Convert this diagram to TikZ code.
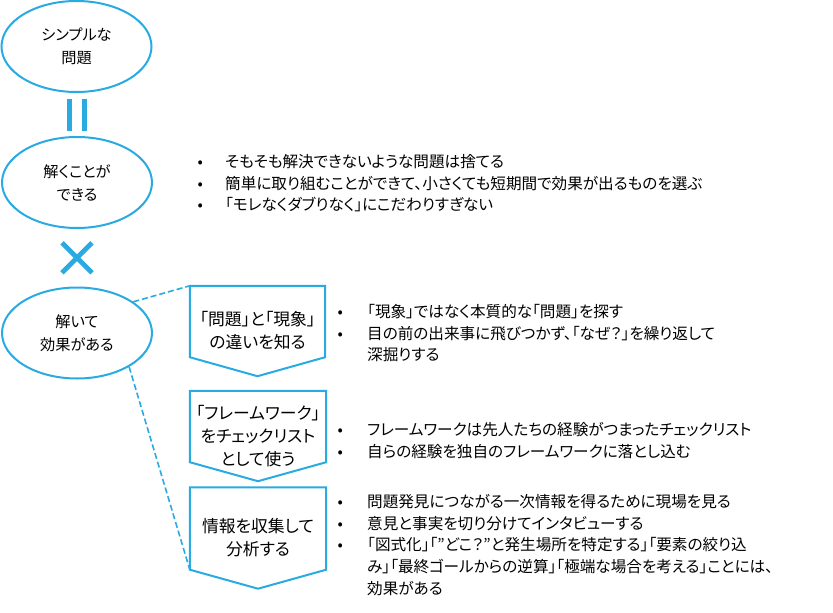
\documentclass[tikz,border=0pt]{standalone}
\usepackage{fontspec}
\setmainfont{Noto Sans CJK JP}[RawFeature={+palt}]
\usetikzlibrary{shapes.geometric,calc}
\definecolor{cy}{RGB}{41,171,226}
\newcommand\dgfs{\fontsize{15.6}{21.7}\selectfont}
\newcommand\dgefs{\fontsize{15.2}{23}\selectfont}
\newcommand\dgpfs{\fontsize{16.8}{23}\selectfont}
\newcommand\dgb{\hspace{10pt}\makebox[0pt]{•}}
\begin{document}
\begin{tikzpicture}[x=1pt,y=-1pt,
  ell/.style={ellipse,draw=cy,line width=2pt,minimum width=150pt,minimum height=91pt,inner sep=0pt,align=center,font=\dgefs},
  pbox/.style={inner sep=0pt,align=center,font=\dgpfs,minimum width=136pt},
  pent/.style={draw=cy,line width=2pt,line join=miter},
  blist/.style={inner sep=0pt,anchor=base west,font=\dgfs},
  dashln/.style={draw=cy,line width=1.6pt,dash pattern=on 6pt off 3pt},
  sym/.style={draw=cy,line width=4.8pt}
]
\useasboundingbox (0,0) rectangle (833,613);
% ellipses
\node[ell] (e1) at (76.5,46.5) {シンプルな\\問題};
\node[ell] (e2) at (77,182.5) {解くことが\\できる};
\node[ell] (e3) at (77,333) {解いて\\効果がある};
% = sign
\coordinate (eq) at ($(e1.south)!0.5!(e2.north)$);
\draw[sym] ($(eq)+(-7.5,-16)$) -- ($(eq)+(-7.5,16)$);
\draw[sym] ($(eq)+(7.5,-16)$) -- ($(eq)+(7.5,16)$);
% x sign
\coordinate (tm) at ($(e2.south)!0.5!(e3.north)$);
\draw[sym] ($(tm)+(-15,-15)$) -- ($(tm)+(15,15)$);
\draw[sym] ($(tm)+(-15,15)$) -- ($(tm)+(15,-15)$);
% pentagons
\node[pbox,minimum width=135pt,minimum height=90pt] (p1) at (257.5,331) {「問題」と「現象」\\の違いを知る};
\node[pbox,minimum height=90pt] (p2) at (258,436) {「フレームワーク」\\をチェックリスト\\として使う};
\node[pbox,minimum height=101pt] (p3) at (258,538) {情報を収集して\\分析する};
\foreach \p in {p1,p2,p3}{
  \draw[pent] (\p.north west) -- (\p.north east) -- ($(\p.south east)+(0,-19)$) -- (\p.south) -- ($(\p.south west)+(0,-19)$) -- cycle;
}
% dashed connectors
\draw[dashln] (e3.29) -- (p1.north west);
\draw[dashln] (e3.-33) -- ($(p3.south west)+(0,-19)$);
% bullet lists
\node[blist] (b1) at (190,167.5) {\begin{tabular}[t]{@{}p{35pt}@{}l@{}}
\dgb & そもそも解決できないような問題は捨てる\\
\dgb & 簡単に取り組むことができて、小さくても短期間で効果が出るものを選ぶ\\
\dgb & 「モレなくダブりなく」にこだわりすぎない
\end{tabular}};
\node[blist] (b2) at (330,317.5) {\begin{tabular}[t]{@{}p{37pt}@{}l@{}}
\dgb & 「現象」ではなく本質的な「問題」を探す\\
\dgb & 目の前の出来事に飛びつかず、「なぜ？」を繰り返して\\
 & 深掘りする
\end{tabular}};
\node[blist] (b3) at (330,435.5) {\begin{tabular}[t]{@{}p{37pt}@{}l@{}}
\dgb & フレームワークは先人たちの経験がつまったチェックリスト\\
\dgb & 自らの経験を独自のフレームワークに落とし込む
\end{tabular}};
\node[blist] (b4) at (330,507.5) {\begin{tabular}[t]{@{}p{37pt}@{}l@{}}
\dgb & 問題発見につながる一次情報を得るために現場を見る\\
\dgb & 意見と事実を切り分けてインタビューする\\
\dgb & 「図式化」「”どこ？”と発生場所を特定する」「要素の絞り込\\
 & み」「最終ゴールからの逆算」「極端な場合を考える」ことには、\\
 & 効果がある
\end{tabular}};
\end{tikzpicture}
\end{document}
